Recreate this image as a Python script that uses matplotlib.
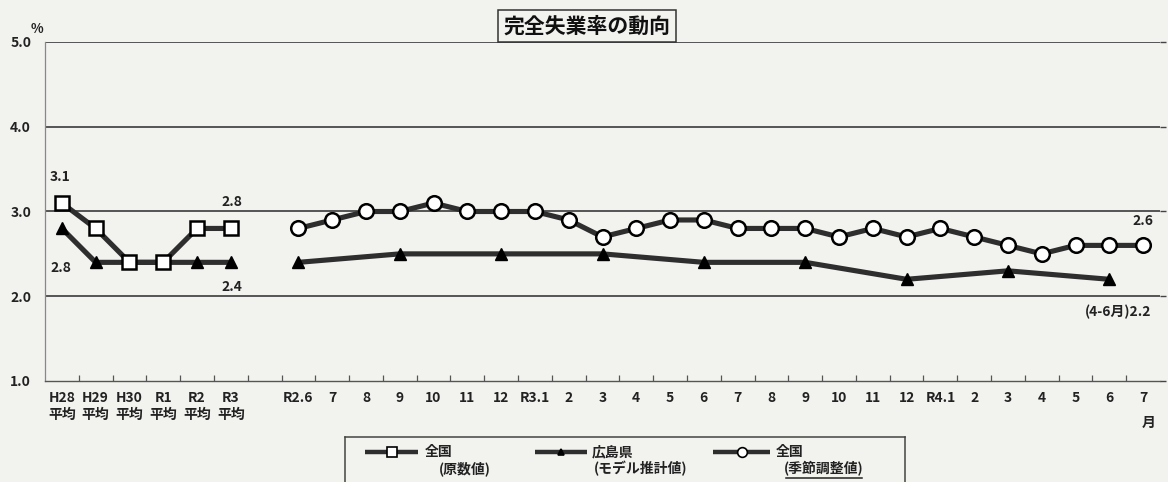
import matplotlib
matplotlib.use("Agg")
import matplotlib.pyplot as plt
import numpy as np

plt.rcParams['font.family'] = ['Noto Sans CJK JP', 'DejaVu Sans']

# ---- data ----
annual_labels = ["H28\n平均", "H29\n平均", "H30\n平均", "R1\n平均", "R2\n平均", "R3\n平均"]
monthly_labels = ["R2.6", "7", "8", "9", "10", "11", "12", "R3.1", "2", "3", "4", "5", "6",
                  "7", "8", "9", "10", "11", "12", "R4.1", "2", "3", "4", "5", "6", "7"]

national_annual = [3.1, 2.8, 2.4, 2.4, 2.8, 2.8]
hiroshima_annual = [2.8, 2.4, 2.4, 2.4, 2.4, 2.4]

national_sa = [2.8, 2.9, 3.0, 3.0, 3.1, 3.0, 3.0, 3.0, 2.9, 2.7, 2.8, 2.9, 2.9,
               2.8, 2.8, 2.8, 2.7, 2.8, 2.7, 2.8, 2.7, 2.6, 2.5, 2.6, 2.6, 2.6]

# Hiroshima model estimates (quarterly, plotted at the quarter-end month)
hiroshima_q_months = ["R2.6", "R2.9", "R2.12", "R3.3", "R3.6", "R3.9", "R3.12", "R4.3", "R4.6"]
hiroshima_q_index = [0, 3, 6, 9, 12, 15, 18, 21, 24]
hiroshima_q = [2.4, 2.5, 2.5, 2.5, 2.4, 2.4, 2.2, 2.3, 2.2]

yticks = [1.0, 2.0, 3.0, 4.0, 5.0]

# ---- layout ----
W, H = 1168, 482
bg = '#f2f2ef'
fig = plt.figure(figsize=(W / 100, H / 100), dpi=100, facecolor=bg)
ax = fig.add_axes([45 / W, 1 - 381 / H, (1160 - 45) / W, (381 - 42) / H], facecolor=bg)

x_annual = np.arange(len(annual_labels))
gap = 1
x_month = np.arange(len(monthly_labels)) + len(annual_labels) + gap
x_hq = x_month[hiroshima_q_index]

line_col = '#2e2e2e'
lw = 3.7

# Annual series
ax.plot(x_annual, hiroshima_annual, color=line_col, lw=lw, marker='^', ms=8,
        mfc='black', mec='black', zorder=3, solid_capstyle='butt')
ax.plot(x_annual, national_annual, color=line_col, lw=lw, marker='s', ms=10.5,
        mfc='white', mec='black', mew=1.8, zorder=4, solid_capstyle='butt')

# Monthly / quarterly series
ax.plot(x_hq, hiroshima_q, color=line_col, lw=lw, marker='^', ms=8,
        mfc='black', mec='black', zorder=3, solid_capstyle='butt')
ax.plot(x_month, national_sa, color=line_col, lw=lw, marker='o', ms=10.5,
        mfc='white', mec='black', mew=1.8, zorder=4, solid_capstyle='butt')

# Axes styling
ax.set_xlim(-0.5, x_month[-1] + 0.5)
ax.set_ylim(1.0, 5.0)
ax.set_yticks(yticks)
ax.set_yticklabels([f"{v:.1f}" for v in yticks], fontsize=10, fontweight='bold', color='#222')
ax.tick_params(axis='y', which='major', left=False, right=True, length=4, width=1,
               color='#444', direction='out', pad=6)
for v in yticks[1:]:
    ax.axhline(v, color='#3a3a3a', lw=1.2, zorder=1)

ax.set_xticks(np.concatenate([x_annual, x_month]))
ax.set_xticklabels(annual_labels + monthly_labels, fontsize=10, fontweight='bold',
                   color='#222', linespacing=1.3, va='top')
ax.tick_params(axis='x', which='major', length=0, pad=7)
ax.set_xticks(np.arange(0.5, x_month[-1] + 0.5, 1.0), minor=True)
ax.tick_params(axis='x', which='minor', length=4, width=0.9, color='#555', direction='in')

for side in ['top', 'right']:
    ax.spines[side].set_visible(False)
ax.spines['left'].set_color('#888')
ax.spines['left'].set_linewidth(0.9)
ax.spines['bottom'].set_color('#555')
ax.spines['bottom'].set_linewidth(1.0)

# Value labels
lab_kw = dict(textcoords='offset pixels', ha='center', va='center',
              fontsize=10, fontweight='bold', color='#222')
ax.annotate(f"{national_annual[0]:.1f}", (x_annual[0], national_annual[0]), xytext=(-2, 26), **lab_kw)
ax.annotate(f"{hiroshima_annual[0]:.1f}", (x_annual[0], hiroshima_annual[0]), xytext=(-1, -40), **lab_kw)
ax.annotate(f"{national_annual[-1]:.1f}", (x_annual[-1], national_annual[-1]), xytext=(1, 26), **lab_kw)
ax.annotate(f"{hiroshima_annual[-1]:.1f}", (x_annual[-1], hiroshima_annual[-1]), xytext=(1, -25), **lab_kw)
ax.annotate(f"{national_sa[-1]:.1f}", (x_month[-1], national_sa[-1]), xytext=(0, 24), **lab_kw)
ax.annotate(f"(4-6月){hiroshima_q[-1]:.1f}", (x_hq[-1], hiroshima_q[-1]), xytext=(42, -33),
            textcoords='offset pixels', ha='right', va='center', fontsize=10,
            fontweight='bold', color='#222')

# Title and unit marks
fig.text(587 / W, 1 - 26 / H, "完全失業率の動向", ha='center', va='center', fontsize=15,
         fontweight='bold', color='#111',
         bbox=dict(boxstyle='square,pad=0.25', fc=bg, ec='#333', lw=1.1))
fig.text(37 / W, 1 - 29 / H, "%", ha='center', va='center', fontsize=9.5, fontweight='bold', color='#222')
fig.text(1149 / W, 1 - 423 / H, "月", ha='center', va='center', fontsize=10, fontweight='bold', color='#222')

# Legend box
lx0, lx1, ly0 = 345, 905, 437
lax = fig.add_axes([lx0 / W, 0, (lx1 - lx0) / W, (H - ly0) / H], facecolor=bg)
lax.set_xlim(lx0, lx1)
lax.set_ylim(H, ly0)
lax.set_xticks([])
lax.set_yticks([])
for side in ['top', 'left', 'right']:
    lax.spines[side].set_color('#444')
    lax.spines[side].set_linewidth(1.1)
lax.spines['bottom'].set_visible(False)

leg_y1, leg_y2 = 452, 469
entries = [
    dict(x0=365, x1=418, marker='s', mfc='white', ms=7, name="全国", sub="(原数値)", tx=425, sx=465),
    dict(x0=535, x1=587, marker='^', mfc='black', ms=4, name="広島県", sub="(モデル推計値)", tx=592, sx=641),
    dict(x0=713, x1=770, marker='o', mfc='white', ms=7, name="全国", sub="(季節調整値)", tx=776, sx=824),
]
leg_txt = dict(fontsize=10, fontweight='bold', color='#222', va='center')
for i, e in enumerate(entries):
    lax.plot([e['x0'], e['x1']], [leg_y1, leg_y1], color=line_col, lw=3.2, solid_capstyle='butt')
    lax.plot([(e['x0'] + e['x1']) / 2], [leg_y1], marker=e['marker'], ms=e['ms'],
             mfc=e['mfc'], mec='black', mew=1.2, ls='none')
    lax.text(e['tx'], leg_y1, e['name'], ha='left', **leg_txt)
    t = lax.text(e['sx'], leg_y2, e['sub'], ha='center', **leg_txt)
    if i == 2:
        fig.canvas.draw()
        bb = t.get_window_extent().transformed(lax.transData.inverted())
        lax.plot([bb.x0 + 2, bb.x1 - 2], [leg_y2 + 9, leg_y2 + 9], color='#222', lw=1.1)

fig.savefig("out.png", dpi=100, facecolor=bg)
